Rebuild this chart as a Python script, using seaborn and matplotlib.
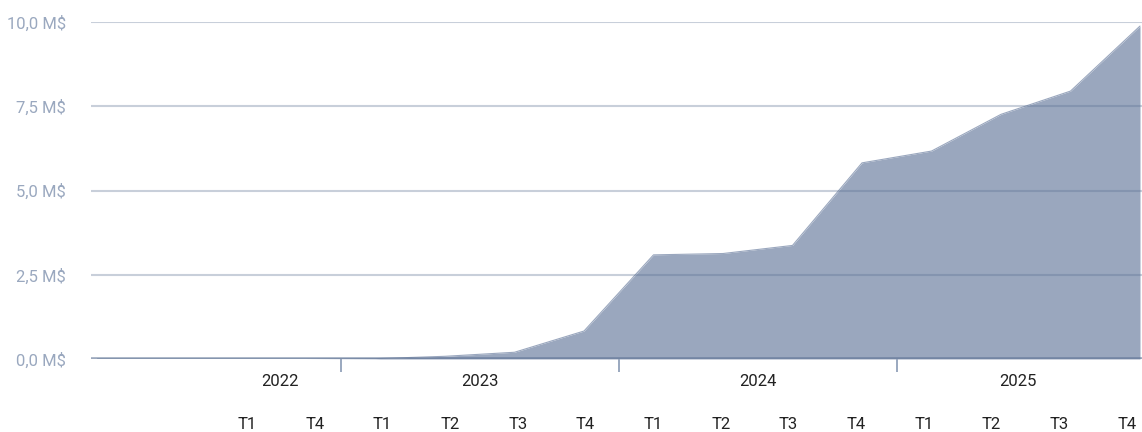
import matplotlib
matplotlib.use("Agg")
import matplotlib.pyplot as plt
import numpy as np
import pandas as pd
import seaborn as sns

# Quarterly cumulative amount, in millions of dollars
quarters = ["2022 T1", "2022 T2", "2022 T3", "2022 T4",
            "2023 T1", "2023 T2", "2023 T3", "2023 T4",
            "2024 T1", "2024 T2", "2024 T3", "2024 T4",
            "2025 T1", "2025 T2", "2025 T3", "2025 T4"]
values = [0.0, 0.0, 0.0, 0.0,
          0.01, 0.08, 0.20, 0.83,
          3.09, 3.13, 3.37, 5.82,
          6.17, 7.26, 7.95, 9.88]

years = ["2022", "2023", "2024", "2025"]
quarter_labels = ["T1", "T4", "T1", "T2", "T3", "T4", "T1", "T2", "T3", "T4",
                  "T1", "T2", "T3", "T4"]
y_ticks = [0.0, 2.5, 5.0, 7.5, 10.0]

df = pd.DataFrame({"idx": np.arange(len(quarters)), "quarter": quarters, "value": values})

sns.set_theme(style="white")
plt.rcParams["font.family"] = ["Roboto", "DejaVu Sans"]

W, H = 1142, 432
fig = plt.figure(figsize=(W / 100, H / 100), dpi=100)
left_px, right_px, top_px, base_px = 91, 1142, 22, 359
ax = fig.add_axes([left_px / W, 1 - base_px / H, (right_px - left_px) / W, (base_px - top_px) / H])

fill_color = "#9aa7be"
ink = "#5a6f91"

ax.fill_between(df["idx"], 0, df["value"], color=fill_color, lw=0, zorder=1)
sns.lineplot(data=df, x="idx", y="value", ax=ax, color=fill_color, lw=0.8, zorder=1)

# horizontal grid drawn over the area
for yv in y_ticks[1:]:
    ax.axhline(yv, color=ink, alpha=0.33, lw=1.5, zorder=3)
ax.axhline(0, color=ink, alpha=0.6, lw=2.6, zorder=3)

step = 69.5
x_lo = -6.5 / step
x_hi = (len(quarters) - 1) + 2 / step
ax.set_xlim(x_lo, x_hi)
ax.set_ylim(0, 10)

for s in ax.spines.values():
    s.set_visible(False)

ax.set_yticks(y_ticks)
ax.set_yticklabels([f"{v:.1f}".replace(".", ",") + " M$" for v in y_ticks])
ax.tick_params(axis="y", length=0, pad=18, labelsize=12, labelcolor="#9aa8bf")

# year separators as major ticks, year names as minor tick labels
ax.set_xticks([3.5, 7.5, 11.5])
ax.set_xticklabels([])
ax.tick_params(axis="x", which="major", length=9.5, width=1.4, color="#9aa8bf", direction="out")
ax.set_xticks([2.63, 5.5, 9.5, 13.25], minor=True)
ax.set_xticklabels(years, minor=True)
ax.tick_params(axis="x", which="minor", length=0, pad=11, labelsize=12, labelcolor="#222222")
ax.set_xlabel("")
ax.set_ylabel("")

# row of quarter labels below the years
ax2 = ax.twiny()
ax2.set_position(ax.get_position())
ax2.xaxis.set_ticks_position("bottom")
ax2.xaxis.set_label_position("bottom")
slot = 67.67
ax2.set_xlim((left_px - 247) / slot, (right_px - 247) / slot)
ax2.set_xticks(np.arange(len(quarter_labels)))
ax2.set_xticklabels(quarter_labels)
ax2.tick_params(axis="x", length=0, pad=42, labelsize=12, labelcolor="#222222")
for s in ax2.spines.values():
    s.set_visible(False)

fig.savefig("out.png", dpi=100)
